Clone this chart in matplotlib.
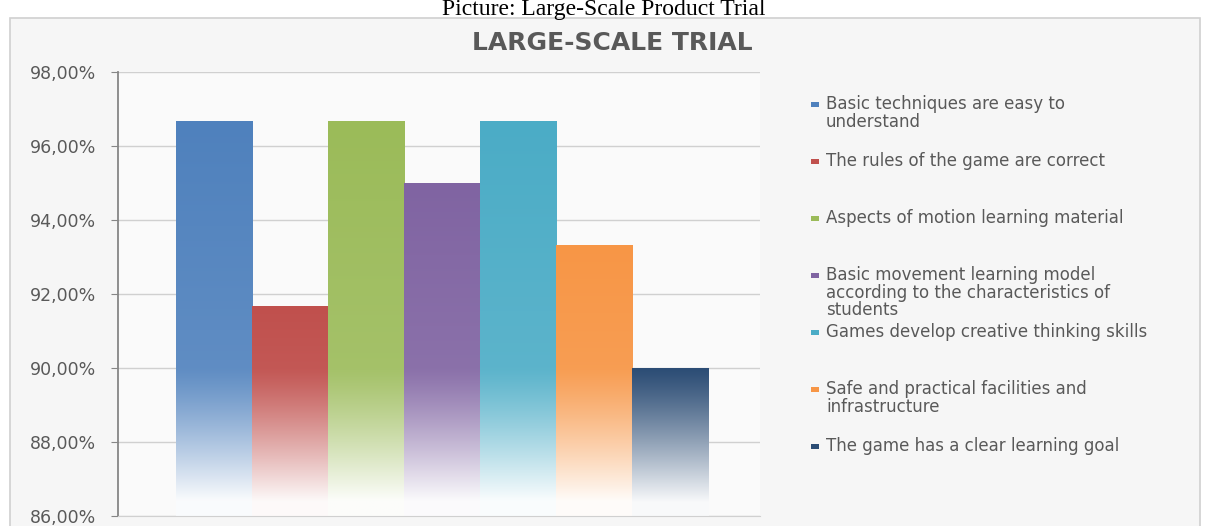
import numpy as np
import matplotlib
matplotlib.use("Agg")
import matplotlib.pyplot as plt
from matplotlib.patches import Rectangle
from matplotlib.ticker import FuncFormatter, MultipleLocator
from matplotlib.colors import to_rgb

# data
labels = [
    "Basic techniques are easy to\nunderstand",
    "The rules of the game are correct",
    "Aspects of motion learning material",
    "Basic movement learning model\naccording to the characteristics of\nstudents",
    "Games develop creative thinking skills",
    "Safe and practical facilities and\ninfrastructure",
    "The game has a clear learning goal",
]
values = [96.67, 91.67, 96.67, 95.00, 96.67, 93.33, 90.00]
colors = ["#4F81BD", "#C0504D", "#9BBB59", "#8064A2", "#4BACC6", "#F79646", "#2C4D75"]

W, H = 1208, 526
fig = plt.figure(figsize=(W / 100, H / 100), dpi=100)
fig.patch.set_facecolor("white")

# chart frame
frame = Rectangle((10 / W, -0.01), 1190 / W, (H - 18) / H + 0.01,
                  transform=fig.transFigure, facecolor="#F6F6F6",
                  edgecolor="#D0D0D0", linewidth=1.2, zorder=-5)
fig.patches.append(frame)

fig.text(0.5, 1 - 14.5 / H, "Picture: Large-Scale Product Trial", ha="center",
         va="baseline", fontsize=17, family="Liberation Serif", color="black")
fig.text(612 / W, 1 - 43 / H, "LARGE-SCALE TRIAL", ha="center", va="center",
         fontsize=18, fontweight="bold", family="DejaVu Sans", color="#595959")

ax = fig.add_axes([118 / W, 10 / H, 642 / W, (516 - 72) / H])
ax.set_facecolor("#FAFAFA")
ax.set_zorder(2)

x = np.arange(len(values))
bars = ax.bar(x, values, width=1.0, color="none", edgecolor="none", zorder=2)

ymin, ymax = 86, 98
for b, v, c in zip(bars, values, colors):
    rgb = np.array(to_rgb(c))
    ys = np.linspace(v, ymin, 200)
    # fade towards white near the bottom of the axis
    t = np.clip((90.0 - ys) / 3.7, 0, 1) ** 1.2
    t = 0.15 * (v - ys) / (v - ymin) + 0.85 * t
    t = np.clip(t, 0, 0.97)
    col = rgb[None, :] * (1 - t[:, None]) + t[:, None]
    img = np.repeat(col[:, None, :], 2, axis=1)
    im = ax.imshow(img, extent=[b.get_x(), b.get_x() + b.get_width(), ymin, v],
                   aspect="auto", zorder=2, interpolation="bilinear")
    im.set_clip_path(b)

ax.set_xlim(-1.26, 7.18)
ax.set_ylim(ymin, ymax)
ax.yaxis.set_major_locator(MultipleLocator(2))
ax.yaxis.set_major_formatter(FuncFormatter(lambda v, p: f"{v:.2f}%".replace(".", ",")))
ax.grid(axis="y", color="#D0D0D0", linewidth=1, zorder=0)
ax.set_axisbelow(True)
ax.set_xticks([])
for s in ["top", "right"]:
    ax.spines[s].set_visible(False)
ax.spines["bottom"].set_color("#D0D0D0")
ax.spines["left"].set_color("#868686")
ax.spines["left"].set_linewidth(1.3)
ax.tick_params(axis="y", length=5, color="#868686", pad=11, labelsize=12.5,
               labelcolor="#595959")

# legend placed by hand, entries 57 px apart
for i, (lab, c) in enumerate(zip(labels, colors)):
    ytop = 1 - (104 + 57 * i) / H
    fig.patches.append(Rectangle((811 / W, ytop - 3 / H), 8 / W, 5 / H,
                                 transform=fig.transFigure, facecolor=c,
                                 edgecolor="none", zorder=3))
    fig.text(826 / W, ytop + 9 / H, lab, ha="left", va="top", fontsize=12,
             color="#595959", linespacing=0.97)

fig.savefig("out.png", dpi=100)
